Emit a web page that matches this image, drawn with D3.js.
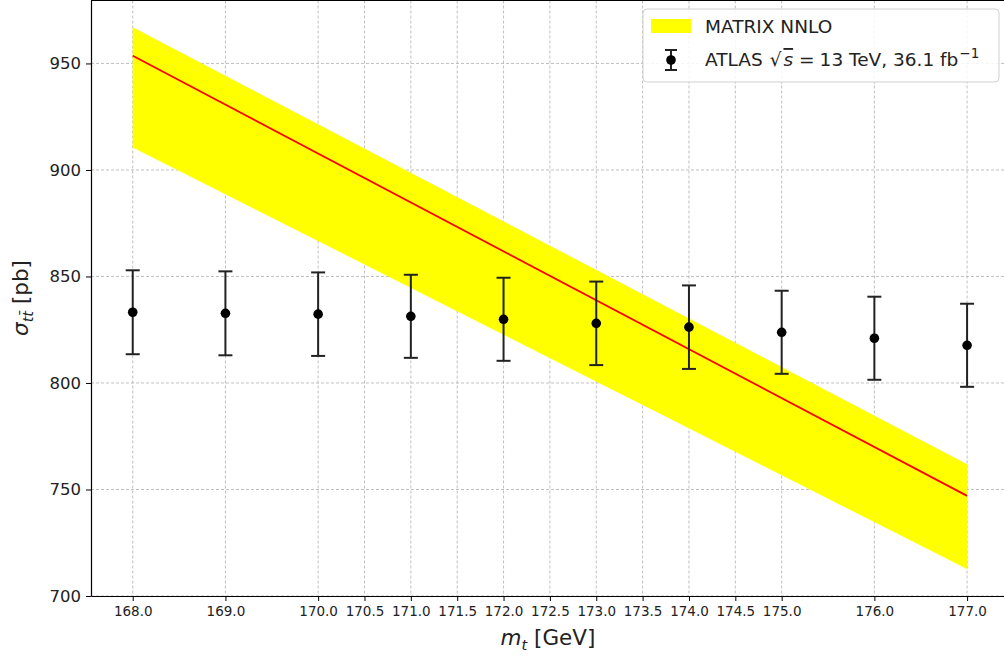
<!DOCTYPE html>
<html><head><meta charset="utf-8">
<script src="https://cdn.jsdelivr.net/npm/d3@7"></script>
<style>body{margin:0;background:#fff}svg{display:block}text{font-family:"DejaVu Sans",sans-serif}</style>
</head><body><svg id="c" width="1004" height="657"></svg>
<script>
const masses = [168,169,170,171,172,173,174,175,176,177];
const atlasXS = [833.2,832.7,832.3,831.3,829.9,828.0,826.2,823.8,821.0,817.7];
const atlasErr = [19.7,19.7,19.6,19.5,19.5,19.6,19.6,19.5,19.5,19.5];
const bandMass = [168,177];
const nnloCentral = [953.6,747.0];
const nnloUp = [967.0,761.9];
const nnloDown = [910.6,712.7];
const xTicks = [168,169,170,170.5,171,171.5,172,172.5,173,173.5,174,174.5,175,176,177];
const yTicks = [700,750,800,850,900,950];

const svg = d3.select("#c");
const L=91, T=0.5, R=1008.8, B=596;
const x = d3.scaleLinear().domain([167.55,177.45]).range([L,R]);
const y = d3.scaleLinear().domain([700,979.55]).range([B,T]);

// grid
const g = svg.append("g");
g.selectAll(".gx").data(xTicks).enter().append("line")
 .attr("x1",d=>x(d)).attr("x2",d=>x(d)).attr("y1",T).attr("y2",B)
 .attr("stroke","#b0b0b0").attr("stroke-width",0.8).attr("stroke-dasharray","3,2");
g.selectAll(".gy").data(yTicks).enter().append("line")
 .attr("x1",L).attr("x2",R).attr("y1",d=>y(d)).attr("y2",d=>y(d))
 .attr("stroke","#b0b0b0").attr("stroke-width",0.8).attr("stroke-dasharray","3,2");

// band
const bandData = bandMass.map((m,i)=>({m,u:nnloUp[i],d:nnloDown[i],c:nnloCentral[i]}));
svg.append("path").datum(bandData)
 .attr("d", d3.area().x(d=>x(d.m)).y0(d=>y(d.d)).y1(d=>y(d.u)))
 .attr("fill","#ffff00");
svg.append("path").datum(bandData)
 .attr("d", d3.line().x(d=>x(d.m)).y(d=>y(d.c)))
 .attr("fill","none").attr("stroke","#ff0000").attr("stroke-width",1.8);

// error bars
const pts = masses.map((m,i)=>({m,v:atlasXS[i],e:atlasErr[i]}));
const eb = svg.append("g").selectAll("g").data(pts).enter().append("g");
eb.append("line").attr("x1",d=>x(d.m)).attr("x2",d=>x(d.m))
 .attr("y1",d=>y(d.v+d.e)).attr("y2",d=>y(d.v-d.e)).attr("stroke","#222").attr("stroke-width",2);
eb.append("line").attr("x1",d=>x(d.m)-7).attr("x2",d=>x(d.m)+7)
 .attr("y1",d=>y(d.v+d.e)).attr("y2",d=>y(d.v+d.e)).attr("stroke","#222").attr("stroke-width",2);
eb.append("line").attr("x1",d=>x(d.m)-7).attr("x2",d=>x(d.m)+7)
 .attr("y1",d=>y(d.v-d.e)).attr("y2",d=>y(d.v-d.e)).attr("stroke","#222").attr("stroke-width",2);
eb.append("circle").attr("cx",d=>x(d.m)).attr("cy",d=>y(d.v)).attr("r",4.8).attr("fill","#000");

// axes
const xa = svg.append("g").attr("transform",`translate(0,${B})`)
 .call(d3.axisBottom(x).tickValues(xTicks).tickFormat(d3.format(".1f")).tickSize(5).tickSizeOuter(0));
xa.select(".domain").attr("stroke","#000").attr("stroke-width",1.2);
xa.selectAll(".tick text").attr("font-size",13.5).attr("fill","#222")
 .attr("y",20).attr("dy",0);
const ya = svg.append("g").attr("transform",`translate(${L},0)`)
 .call(d3.axisLeft(y).tickValues(yTicks).tickSize(5).tickSizeOuter(0));
ya.select(".domain").attr("stroke","#000").attr("stroke-width",1.2);
ya.selectAll(".tick text").attr("font-size",16.5).attr("fill","#222").attr("x",-10);
svg.append("line").attr("x1",L).attr("x2",R).attr("y1",T).attr("y2",T).attr("stroke","#000").attr("stroke-width",1.2);

// labels
const xl = svg.append("text").attr("x",548).attr("y",645).attr("text-anchor","middle").attr("font-size",21.5).attr("fill","#222");
xl.append("tspan").attr("font-style","italic").text("m");
xl.append("tspan").attr("font-style","italic").attr("font-size",14.5).attr("dy",5).text("t");
xl.append("tspan").attr("dy",-5).text(" [GeV]");

const yl = svg.append("text").attr("transform","translate(28,298) rotate(-90)").attr("text-anchor","middle").attr("font-size",21.5).attr("fill","#222");
yl.append("tspan").attr("font-style","italic").text("σ");
yl.append("tspan").attr("font-style","italic").attr("font-size",14.5).attr("dy",5).text("tt̄");
yl.append("tspan").attr("dy",-5).text(" [pb]");

// legend
const lg = svg.append("g");
lg.append("rect").attr("x",643).attr("y",9).attr("width",356).attr("height",73).attr("rx",4)
 .attr("fill","#fff").attr("fill-opacity",0.85).attr("stroke","#d0d0d0");
lg.append("rect").attr("x",651).attr("y",19).attr("width",40).attr("height",14).attr("fill","#ffff00");
lg.append("text").attr("x",705).attr("y",33).attr("font-size",18.5).attr("fill","#222").text("MATRIX NNLO");
lg.append("line").attr("x1",671).attr("x2",671).attr("y1",50).attr("y2",70).attr("stroke","#222").attr("stroke-width",2);
lg.append("line").attr("x1",665).attr("x2",677).attr("y1",50).attr("y2",50).attr("stroke","#222").attr("stroke-width",2);
lg.append("line").attr("x1",665).attr("x2",677).attr("y1",70).attr("y2",70).attr("stroke","#222").attr("stroke-width",2);
lg.append("circle").attr("cx",671).attr("cy",60).attr("r",4.8).attr("fill","#000");
const lt = lg.append("text").attr("x",705).attr("y",66).attr("font-size",18.5).attr("fill","#222");
lt.append("tspan").text("ATLAS");
lt.append("tspan").attr("dx",7).text("√");
lt.append("tspan").attr("dx",2).attr("font-style","italic").attr("text-decoration","overline").text("s");
lt.append("tspan").attr("dx",6).text("=");
lt.append("tspan").attr("dx",5).text("13 TeV, 36.1 fb");
lt.append("tspan").attr("font-size",13.5).attr("dy",-8).attr("dx",1).text("−1");
</script></body></html>
